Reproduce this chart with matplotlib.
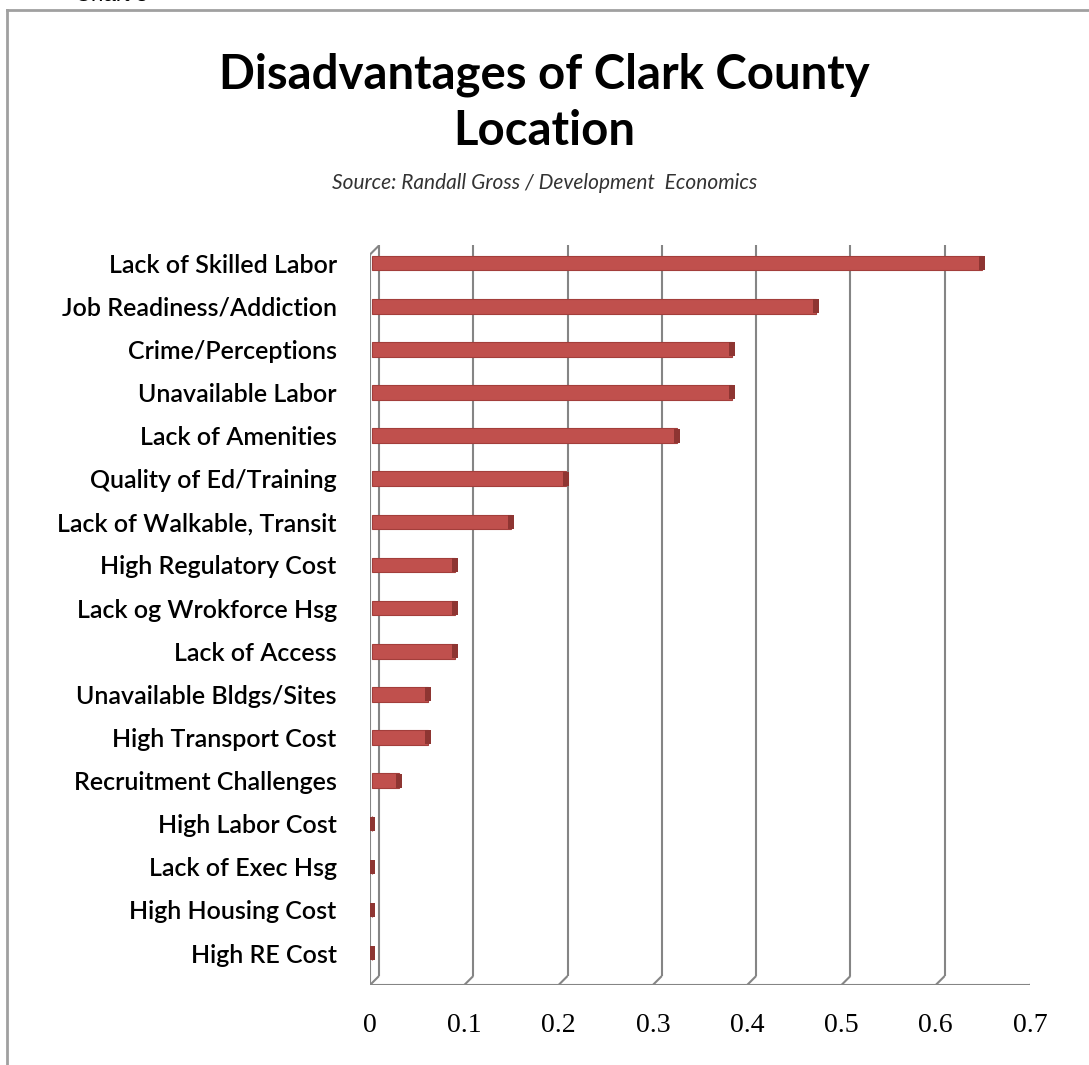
import matplotlib.pyplot as plt
import matplotlib.transforms as mtransforms
from matplotlib.lines import Line2D

categories = ['Lack of Skilled Labor', 'Job Readiness/Addiction', 'Crime/Perceptions',
              'Unavailable Labor', 'Lack of Amenities', 'Quality of Ed/Training',
              'Lack of Walkable, Transit', 'High Regulatory Cost', 'Lack og Wrokforce Hsg',
              'Lack of Access', 'Unavailable Bldgs/Sites', 'High Transport Cost',
              'Recruitment Challenges', 'High Labor Cost', 'Lack of Exec Hsg',
              'High Housing Cost', 'High RE Cost']
values = [0.647, 0.471, 0.382, 0.382, 0.324, 0.206, 0.147, 0.088, 0.088,
          0.088, 0.059, 0.059, 0.029, 0.0, 0.0, 0.0, 0.0]
xticks = [0, 0.1, 0.2, 0.3, 0.4, 0.5, 0.6, 0.7]

W, H = 1089, 1065
fig = plt.figure(figsize=(W / 100, H / 100), dpi=100)

# outer chart frame (top and left edges only show)
fig.add_artist(Line2D([7 / W, 7 / W], [0, 1 - 10 / H], color='#a0a0a0', lw=2))
fig.add_artist(Line2D([7 / W, 1], [1 - 10 / H, 1 - 10 / H], color='#a0a0a0', lw=2))
fig.text(75 / W, 1 - 6 / H, 'Chart 3', fontsize=16, family='Liberation Sans', va='bottom')

fig.text(0.5, 1 - 75 / H, 'Disadvantages of Clark County', ha='center', va='center',
         fontsize=34, fontweight='bold', family='Lato')
fig.text(0.5, 1 - 131 / H, 'Location', ha='center', va='center',
         fontsize=34, fontweight='bold', family='Lato')
fig.text(0.5, 1 - 183 / H, 'Source: Randall Gross / Development  Economics', ha='center',
         va='center', fontsize=15, style='italic', family='Lato', color='#333333')

ax = fig.add_axes([370 / W, 80 / H, 660 / W, 740 / H])
ax.set_xlim(0, 0.7)
n = len(categories)
ybot = n - 1 + 0.74
ax.set_ylim(ybot, -0.42)
for s in ax.spines.values():
    s.set_visible(False)

# back wall offset for the 3-D look
off = mtransforms.ScaledTranslation(0.09, 0.09, fig.dpi_scale_trans)
back = ax.transData + off
grid_kw = dict(color='#858585', lw=1.5, solid_capstyle='butt')
for x in xticks:
    ax.plot([x, x], [ybot, -0.42], transform=back, **grid_kw, zorder=1)
    # floor connector from front edge to back wall
    x0, y0 = ax.transData.transform((x, ybot))
    ax.add_artist(Line2D([x0, x0 + 9], [y0, y0 + 9], transform=None, **grid_kw))
ax.plot([0, 0.7], [ybot, ybot], **grid_kw, zorder=2)
# left wall front edge
ax.plot([0, 0], [ybot, -0.2], **grid_kw, zorder=2)
x0, y0 = ax.transData.transform((0, -0.2))
ax.add_artist(Line2D([x0, x0 + 9], [y0, y0 + 9], transform=None, **grid_kw))

ypos = list(range(n))
bar_tr = ax.transData + mtransforms.ScaledTranslation(0.02, 0.0, fig.dpi_scale_trans)
ax.barh(ypos, values, height=0.34, color='#c0504d', edgecolor='#a33e3b', lw=0.8,
        transform=bar_tr, zorder=3)
cap = [(-0.35, -1), (0.35, -1), (0.35, 1), (-0.35, 1)]
ax.scatter(values, ypos, marker=cap, s=110, color='#8e3532',
           transform=bar_tr, zorder=4, linewidths=0)

ax.set_yticks(ypos)
ax.set_yticklabels(categories, fontsize=18, family='Lato', fontweight='semibold')
ax.tick_params(axis='y', length=0, pad=24)
ax.set_xticks(xticks)
ax.set_xticklabels(['0', '0.1', '0.2', '0.3', '0.4', '0.5', '0.6', '0.7'],
                   fontsize=20, family='Liberation Serif')
ax.tick_params(axis='x', length=0, pad=20)

fig.savefig('out.png', dpi=100)
